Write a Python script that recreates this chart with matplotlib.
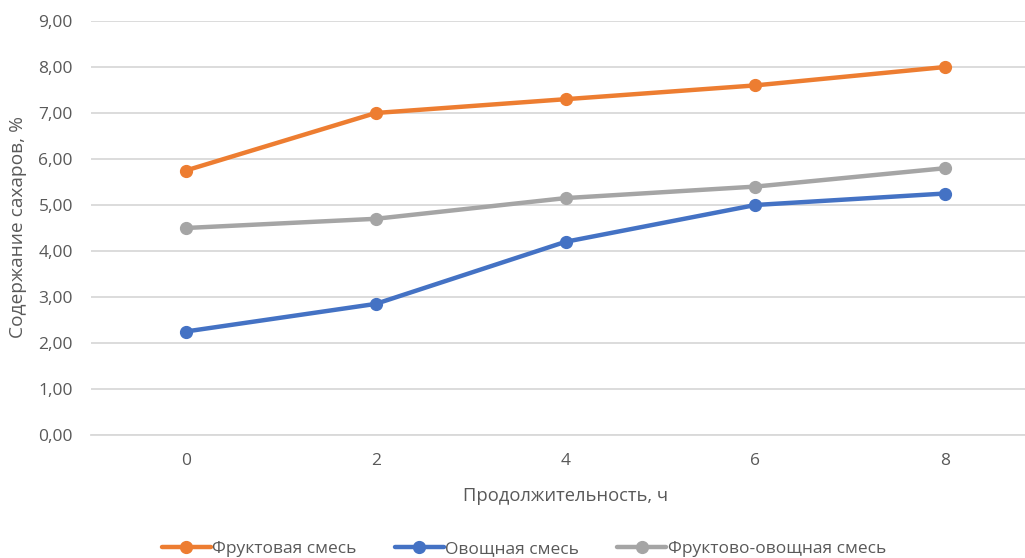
import matplotlib
matplotlib.use("Agg")
import matplotlib.pyplot as plt
from matplotlib.ticker import FuncFormatter

hours = ["0", "2", "4", "6", "8"]
fruit = [5.75, 7.00, 7.30, 7.60, 8.00]
vegetable = [2.25, 2.85, 4.20, 5.00, 5.25]
fruit_veg = [4.50, 4.70, 5.15, 5.40, 5.80]

series_names = ["Фруктовая смесь", "Овощная смесь", "Фруктово-овощная смесь"]
series_colors = ["#ED7D31", "#4472C4", "#A5A5A5"]

plt.rcParams["font.family"] = ["Open Sans", "DejaVu Sans"]
text_color = "#595959"
fs = 12.5

fig = plt.figure(figsize=(10.25, 5.58), dpi=100)
ax = fig.add_axes([91 / 1025, 123 / 558, 949 / 1025, 414 / 558])

x = list(range(len(hours)))
for vals, name, col in zip([fruit, vegetable, fruit_veg], series_names, series_colors):
    ax.plot(x, vals, color=col, lw=3.2, marker="o", ms=8.5, label=name,
            solid_capstyle="round", zorder=3)

ax.set_xlim(-0.5, len(hours) - 0.5)
ax.set_ylim(0, 9)
ax.set_yticks([i for i in range(10)])
ax.yaxis.set_major_formatter(FuncFormatter(lambda v, p: f"{v:.2f}".replace(".", ",")))
ax.set_xticks(x)
ax.set_xticklabels(hours)

ax.grid(axis="y", color="#D9D9D9", lw=1.3)
ax.set_axisbelow(True)
for s in ["top", "right", "left"]:
    ax.spines[s].set_visible(False)
ax.spines["bottom"].set_color("#D9D9D9")
ax.spines["bottom"].set_linewidth(1.3)
ax.tick_params(axis="both", length=0, labelsize=fs, colors=text_color)
ax.tick_params(axis="y", pad=13)
ax.tick_params(axis="x", pad=13)

ax.set_xlabel("Продолжительность, ч", fontsize=13.2, color=text_color, labelpad=13)
fig.text(18 / 1025, 1 - 226.5 / 558, "Содержание сахаров, %", rotation=90,
         ha="center", va="center", fontsize=13.8, color=text_color)

leg = fig.legend(loc="center", bbox_to_anchor=(524 / 1025, 1 - 549 / 558), ncol=3,
                 frameon=False, fontsize=fs, handlelength=2.8, handletextpad=0.1,
                 columnspacing=2.2, labelcolor=text_color)

fig.savefig("out.png", dpi=100)
